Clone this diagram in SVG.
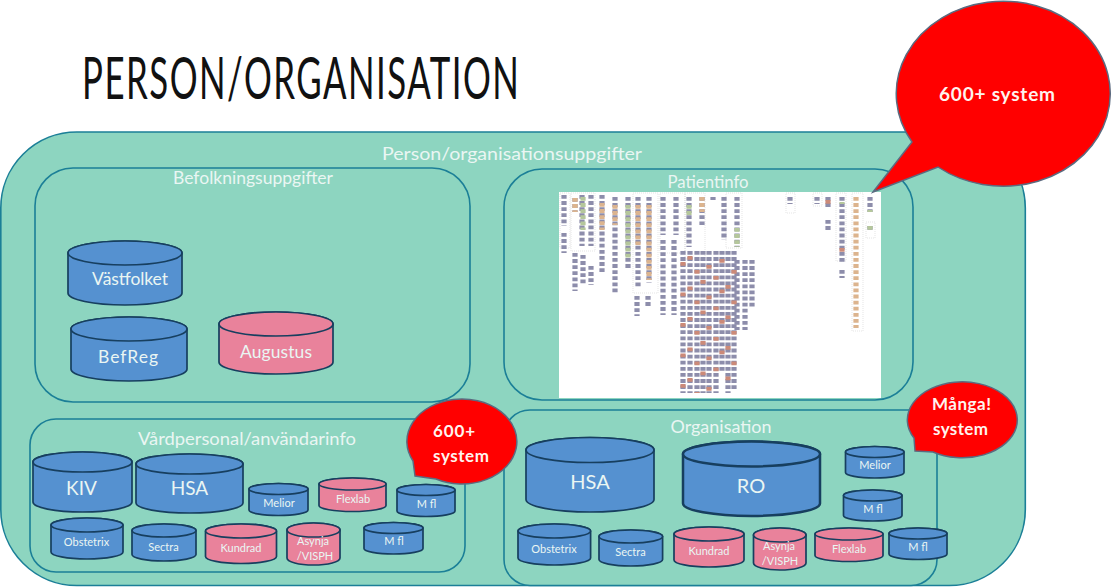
<svg xmlns="http://www.w3.org/2000/svg" width="1114" height="587" viewBox="0 0 1114 587">
<style>
text{font-family:"Lato","Open Sans","Liberation Sans",sans-serif;text-anchor:middle;fill:#eaf6f3}
.box{fill:#8dd5c0;stroke:#1b7f97;stroke-width:1.6}
.b path,.b ellipse{fill:#5591d0;stroke:#173f5f;stroke-width:1.7}
.p path,.p ellipse{fill:#e9829b;stroke:#173f5f;stroke-width:1.7}
.lbl{font-size:18px}
.cy{font-size:11px}
.big{font-size:19px}
.mid{font-size:17.500px}
.bub path{fill:#f00;stroke:#5b6b80;stroke-width:1.5}
.bub text{font-weight:700;font-size:17px;fill:#fff3ee}
.mini path{fill:none;stroke-width:5.200;stroke-dasharray:3.800 2.300}
.a{stroke:#8d8dab}.o{stroke:#dcb48e}.g{stroke:#b5c79b}
.mini path.r{stroke:#cc8a78;stroke-dasharray:3.800 26.700}
.mini rect{fill:none;stroke:#c9c9c9;stroke-width:.5;stroke-dasharray:1 1}
</style>
<defs><filter id="soft" x="-5%" y="-5%" width="110%" height="110%"><feGaussianBlur stdDeviation="0.45"/></filter></defs>
<rect width="1114" height="587" fill="#fff"/>
<text transform="translate(300.500 99) scale(0.6 1)" x="0" y="0" font-size="58" textLength="728" style="fill:#111">PERSON/ORGANISATION</text>

<g id="outer"><rect class="box" x="0.800" y="132" width="1024.500" height="453.500" rx="76"/><text class="lbl" x="512" y="160" textLength="260" lengthAdjust="spacingAndGlyphs">Person/organisationsuppgifter</text></g>
<g id="befolkning"><rect class="box" x="35" y="168" width="435" height="234" rx="38"/><text class="lbl" x="253" y="184" textLength="160" lengthAdjust="spacingAndGlyphs">Befolkningsuppgifter</text></g>
<g id="patientinfo"><rect class="box" x="504" y="169" width="409" height="231" rx="38"/><text class="lbl" x="708" y="188" textLength="81" lengthAdjust="spacingAndGlyphs">Patientinfo</text></g>
<g id="vardpersonal"><rect class="box" x="30" y="419" width="435" height="153" rx="26"/><text class="lbl" x="247" y="445" textLength="218" lengthAdjust="spacingAndGlyphs">Vårdpersonal/användarinfo</text></g>
<g id="organisation"><rect class="box" x="504" y="410" width="433" height="175.500" rx="26"/><text class="lbl" x="721" y="433" textLength="101" lengthAdjust="spacingAndGlyphs">Organisation</text></g>

<g id="patient-map">
<rect x="559" y="192" width="322" height="206" fill="#fff"/>
<g class="mini" filter="url(#soft)">
<rect x="560" y="193" width="10" height="55"/><rect x="571" y="193" width="24" height="58"/><rect x="633" y="193" width="25" height="100"/><rect x="660" y="193" width="25" height="60"/><rect x="685" y="193" width="20" height="66"/><rect x="726" y="193" width="16" height="55"/><rect x="786" y="193" width="9" height="20"/><rect x="813" y="193" width="9" height="13"/><rect x="836" y="193" width="10" height="68"/><rect x="852" y="193" width="11" height="138"/><rect x="866" y="222" width="9" height="16"/>
<path class="a" d="M564 195V226M564 233V253M575 198V212M575 253V291M582 195V246M583 255V285M591 195V246M591 266V285M602 195V274M615 197V294M628 197V270M638 197V287M637 296V316M649 197V283M648 296V307M663 197V235M663 240V315M676 197V235M674 240V315M689 197V247M702 197V225M713 197V200M724 197V240M737 197V247M737 260V330M745 260V330M752 260V307"/>
<path class="g" d="M583 197V230M628 205V260M689 205V215M737 228V247"/>
<path class="o" d="M575 198V212M602 203V230M615 205V225M638 205V245M649 205V280M702 197V212M856 197V328"/>
<path class="a" d="M683 251V393M690 251V393M697 251V393M703 251V393M709 251V393M716 251V393M722 251V372M728 251V393M734 251V390"/>
<path class="a" d="M790 197V204M817 197V204M828 197V208M828 220V230M842 197V262M842 270V278M870 197V212M870 226V230"/>
<path class="g" d="M870 210V212M870 226V230M842 202V204"/>
<path class="r" d="M683 262V393M690 256V393M697 270V393M703 280V393M709 265V393M716 276V393M722 259V372M728 285V393M734 270V390M828 200V230M842 248V262"/>
</g></g>

<g id="vastfolket" class="b"><path d="M68 253A57 12 0 0 1 182 253V293A57 12 0 0 1 68 293Z"/><ellipse cx="125" cy="253" rx="57" ry="12"/><text class="mid" x="130" y="285" textLength="76">Västfolket</text></g>
<g id="befreg" class="b"><path d="M71 329A58 12 0 0 1 187 329V369A58 12 0 0 1 71 369Z"/><ellipse cx="129" cy="329" rx="58" ry="12"/><text class="mid" x="128" y="363" textLength="60">BefReg</text></g>
<g id="augustus" class="p"><path d="M219 324A57 12 0 0 1 333 324V362A57 12 0 0 1 219 362Z"/><ellipse cx="276" cy="324" rx="57" ry="12"/><text class="mid" x="276" y="358" textLength="72">Augustus</text></g>

<g id="kiv" class="b"><path d="M33 462A49.500 10 0 0 1 132 462V502A49.500 10 0 0 1 33 502Z"/><ellipse cx="82.500" cy="462" rx="49.500" ry="10"/><text class="big" x="81.500" y="495">KIV</text></g>
<g id="hsa1" class="b"><path d="M136 464A53.500 10 0 0 1 243 464V503A53.500 10 0 0 1 136 503Z"/><ellipse cx="189.500" cy="464" rx="53.500" ry="10"/><text class="big" x="189.500" y="495">HSA</text></g>
<g id="melior1" class="b"><path d="M249 489A29.500 5.500 0 0 1 308 489V510A29.500 5.500 0 0 1 249 510Z"/><ellipse cx="278.500" cy="489" rx="29.500" ry="5.500"/><text class="cy" x="279" y="507">Melior</text></g>
<g id="flexlab1" class="p"><path d="M319 484A33.500 6 0 0 1 386 484V505.500A33.500 6 0 0 1 319 505.500Z"/><ellipse cx="352.500" cy="484" rx="33.500" ry="6"/><text class="cy" x="353" y="502.500">Flexlab</text></g>
<g id="mfl1" class="b"><path d="M397 490A29 5.500 0 0 1 455 490V511A29 5.500 0 0 1 397 511Z"/><ellipse cx="426" cy="490" rx="29" ry="5.500"/><text class="cy" x="426.500" y="507.500">M fl</text></g>
<g id="obstetrix1" class="b"><path d="M51 525A36 7 0 0 1 123 525V552A36 7 0 0 1 51 552Z"/><ellipse cx="87" cy="525" rx="36" ry="7"/><text class="cy" x="86.500" y="546">Obstetrix</text></g>
<g id="sectra1" class="b"><path d="M132 530.500A32 6.500 0 0 1 196 530.500V554.500A32 6.500 0 0 1 132 554.500Z"/><ellipse cx="164" cy="530.500" rx="32" ry="6.500"/><text class="cy" x="163.500" y="550.500">Sectra</text></g>
<g id="kundrad1" class="p"><path d="M205.500 531A35.500 7 0 0 1 276.500 531V556.500A35.500 7 0 0 1 205.500 556.500Z"/><ellipse cx="241" cy="531" rx="35.500" ry="7"/><text class="cy" x="241" y="552">Kundrad</text></g>
<g id="asynja1" class="p"><path d="M287 530A26.500 7 0 0 1 340 530V558A26.500 7 0 0 1 287 558Z"/><ellipse cx="313.500" cy="530" rx="26.500" ry="7"/><text class="cy" x="313" y="545">Asynja</text><text class="cy" x="315" y="560">/VISPH</text></g>
<g id="mfl2" class="b"><path d="M364 528A29.500 5.500 0 0 1 423 528V548.500A29.500 5.500 0 0 1 364 548.500Z"/><ellipse cx="393.500" cy="528" rx="29.500" ry="5.500"/><text class="cy" x="394" y="545">M fl</text></g>

<g id="hsa2" class="b"><path d="M526 450A64 12.500 0 0 1 654 450V499.500A64 12.500 0 0 1 526 499.500Z"/><ellipse cx="590" cy="450" rx="64" ry="12.500"/><text class="big" x="590" y="489" style="font-size:20px">HSA</text></g>
<g id="ro" class="b"><path d="M683 454A68.500 12.500 0 0 1 820 454V503.500A68.500 12.500 0 0 1 683 503.500Z" style="stroke-width:2.500"/><ellipse cx="751.500" cy="454" rx="68.500" ry="12.500" style="stroke-width:2.500"/><text class="big" x="751" y="492.500" style="font-size:20px">RO</text></g>
<g id="melior2" class="b"><path d="M845.500 452A29.250 5.500 0 0 1 904 452V472.500A29.250 5.500 0 0 1 845.500 472.500Z"/><ellipse cx="874.750" cy="452" rx="29.250" ry="5.500"/><text class="cy" x="875" y="469">Melior</text></g>
<g id="mfl3" class="b"><path d="M843.500 495.500A29.250 5.500 0 0 1 902 495.500V515.500A29.250 5.500 0 0 1 843.500 515.500Z"/><ellipse cx="872.750" cy="495.500" rx="29.250" ry="5.500"/><text class="cy" x="873" y="512.500">M fl</text></g>
<g id="obstetrix2" class="b"><path d="M518 531A36.300 7 0 0 1 590.600 531V558A36.300 7 0 0 1 518 558Z"/><ellipse cx="554.300" cy="531" rx="36.300" ry="7"/><text class="cy" x="554" y="553">Obstetrix</text></g>
<g id="sectra2" class="b"><path d="M599 536.500A31.800 6.500 0 0 1 662.600 536.500V559.500A31.800 6.500 0 0 1 599 559.500Z"/><ellipse cx="630.800" cy="536.500" rx="31.800" ry="6.500"/><text class="cy" x="630.500" y="556">Sectra</text></g>
<g id="kundrad2" class="p"><path d="M674 534A35 7 0 0 1 744 534V560A35 7 0 0 1 674 560Z"/><ellipse cx="709" cy="534" rx="35" ry="7"/><text class="cy" x="709" y="555">Kundrad</text></g>
<g id="asynja2" class="p"><path d="M753.500 535A26.250 7 0 0 1 806 535V563A26.250 7 0 0 1 753.500 563Z"/><ellipse cx="779.750" cy="535" rx="26.250" ry="7"/><text class="cy" x="779" y="550">Asynja</text><text class="cy" x="780" y="565">/VISPH</text></g>
<g id="flexlab2" class="p"><path d="M815 534A34 6 0 0 1 883 534V555.500A34 6 0 0 1 815 555.500Z"/><ellipse cx="849" cy="534" rx="34" ry="6"/><text class="cy" x="849" y="553">Flexlab</text></g>
<g id="mfl4" class="b"><path d="M889 533.500A29 5.500 0 0 1 947 533.500V554A29 5.500 0 0 1 889 554Z"/><ellipse cx="918" cy="533.500" rx="29" ry="5.500"/><text class="cy" x="918" y="551">M fl</text></g>

<g id="callout-main" class="bub"><path d="M873 192L912 142A107 92.500 0 1 1 938 167Z"/><text x="997" y="101" font-size="18" style="font-size:19px" textLength="116">600+ system</text></g>
<g id="callout-vard" class="bub"><path d="M415 476L413 461A55 42.500 0 1 1 436 479Z"/><text x="454" y="437" textLength="42">600+</text><text x="461" y="462" textLength="56">system</text></g>
<g id="callout-org" class="bub"><path d="M915 451L914 438A55 38 0 1 1 933 452Z"/><text x="961.500" y="410" textLength="59">Många!</text><text x="960.500" y="435" textLength="55">system</text></g>
</svg>
